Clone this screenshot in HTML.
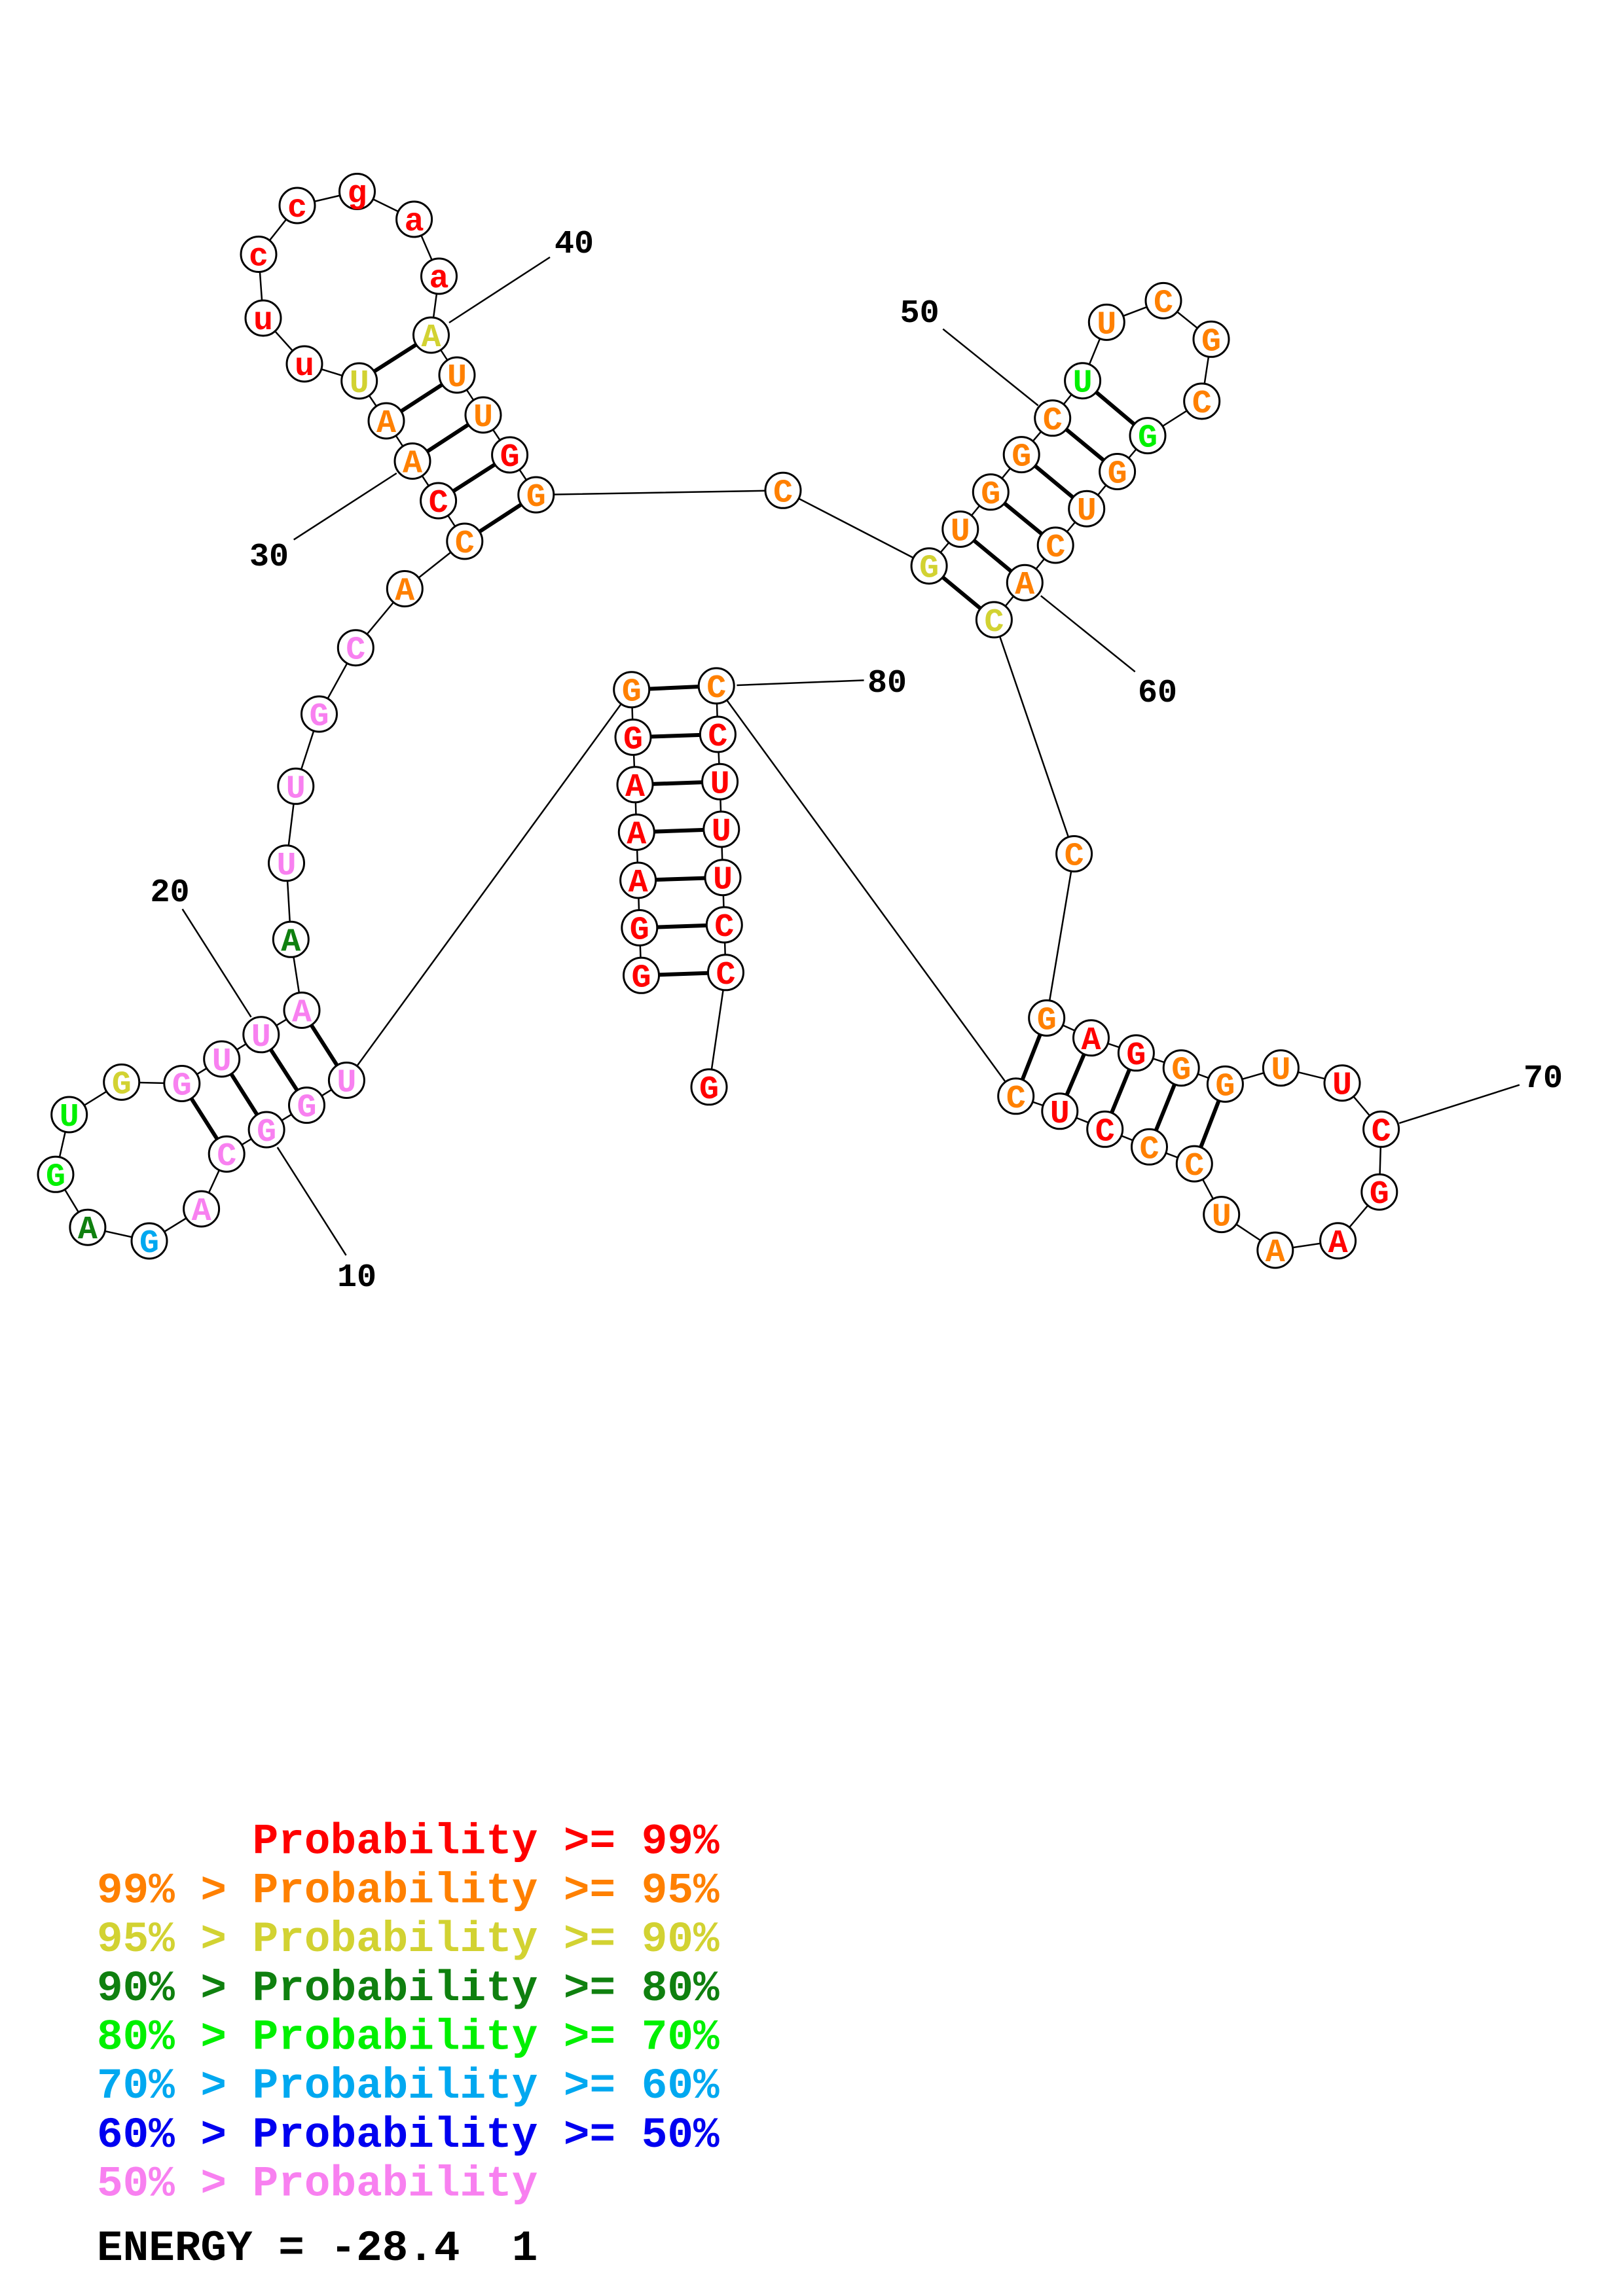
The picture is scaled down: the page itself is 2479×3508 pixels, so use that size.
<!DOCTYPE html>
<html><head><meta charset="utf-8"><style>
html,body{margin:0;padding:0;background:#fff;}
svg{display:block;}
.n{font-family:"Liberation Mono",monospace;font-weight:bold;font-size:50px;text-anchor:middle;}
.lb{font-family:"Liberation Mono",monospace;font-weight:bold;font-size:50px;text-anchor:middle;fill:#000;}
.lg{font-family:"Liberation Mono",monospace;font-weight:bold;font-size:66px;white-space:pre;}
.R{fill:#FF0000}.O{fill:#FF8000}.Y{fill:#D2D232}.DG{fill:#0F800F}.G{fill:#00F000}.LB{fill:#00A8F0}.B{fill:#0000F0}.P{fill:#F880F0}
</style></head><body>
<svg width="2479" height="3508" viewBox="0 0 2479 3508" xmlns="http://www.w3.org/2000/svg">
<rect width="2479" height="3508" fill="#fff"/>
<!-- backbone -->
<polyline fill="none" stroke="#000" stroke-width="2.5" points="979.5,1490.3 976.8,1417.5 974.6,1345 972.3,1271.5 970,1198.8 967,1126.4 964.7,1053.7 529.4,1650.5 468.5,1688.6 407.1,1726 346.2,1763.2 307.6,1847 228,1896 133.9,1875.2 85,1794.3 105.7,1703 185.7,1653.4 277.8,1655.5 338.7,1618 398.8,1580.8 461,1543.5 444.3,1435.3 437.5,1318.8 451.8,1201.3 487.5,1091 543.3,989.7 618.3,899.5 709.8,827 669.6,765 630,704.5 590,643 548.7,582 465,556 402,486 395,388.5 454,314 545.5,292.5 632.6,335 670.5,422 658.5,512 698,573 738,634 778.6,695 818.8,756 1196,749.3 1419.1,864.7 1466.8,808.5 1513.3,751.8 1560.2,694.6 1607.7,638.8 1653.6,581.7 1690.3,492.4 1777,459.4 1850,518.3 1835.7,613 1753,665.6 1706.6,720.5 1659.7,777.2 1612.2,833 1565.3,890.2 1518.4,946.9 1640.6,1304.5 1598.7,1555.4 1666.5,1585.8 1735.4,1608.8 1804.2,1631.7 1871.4,1656.4 1956.4,1631.7 2050,1654.7 2109.6,1725.3 2106.8,1821.2 2043.6,1895.8 1947.8,1910.1 1865.7,1855.6 1824.3,1778.1 1755.5,1752.3 1687.7,1725.3 1618.8,1697.8 1551.7,1674.8 1094.2,1047.9 1096.4,1122 1099.6,1194.3 1101.8,1267 1104,1340.7 1106.3,1413 1108.5,1485.8 1083,1660.8"/>
<!-- base pairs -->
<g stroke="#000" stroke-width="6">
<line x1="979.5" y1="1490.3" x2="1108.5" y2="1485.8"/>
<line x1="976.8" y1="1417.5" x2="1106.3" y2="1413"/>
<line x1="974.6" y1="1345" x2="1104" y2="1340.7"/>
<line x1="972.3" y1="1271.5" x2="1101.8" y2="1267"/>
<line x1="970" y1="1198.8" x2="1099.6" y2="1194.3"/>
<line x1="967" y1="1126.4" x2="1096.4" y2="1122"/>
<line x1="964.7" y1="1053.7" x2="1094.2" y2="1047.9"/>
<line x1="529.4" y1="1650.5" x2="461" y2="1543.5"/>
<line x1="468.5" y1="1688.6" x2="398.8" y2="1580.8"/>
<line x1="407.1" y1="1726" x2="338.7" y2="1618"/>
<line x1="346.2" y1="1763.2" x2="277.8" y2="1655.5"/>
<line x1="709.8" y1="827" x2="818.8" y2="756"/>
<line x1="669.6" y1="765" x2="778.6" y2="695"/>
<line x1="630" y1="704.5" x2="738" y2="634"/>
<line x1="590" y1="643" x2="698" y2="573"/>
<line x1="548.7" y1="582" x2="658.5" y2="512"/>
<line x1="1419.1" y1="864.7" x2="1518.4" y2="946.9"/>
<line x1="1466.8" y1="808.5" x2="1565.3" y2="890.2"/>
<line x1="1513.3" y1="751.8" x2="1612.2" y2="833"/>
<line x1="1560.2" y1="694.6" x2="1659.7" y2="777.2"/>
<line x1="1607.7" y1="638.8" x2="1706.6" y2="720.5"/>
<line x1="1653.6" y1="581.7" x2="1753" y2="665.6"/>
<line x1="1598.7" y1="1555.4" x2="1551.7" y2="1674.8"/>
<line x1="1666.5" y1="1585.8" x2="1618.8" y2="1697.8"/>
<line x1="1735.4" y1="1608.8" x2="1687.7" y2="1725.3"/>
<line x1="1804.2" y1="1631.7" x2="1755.5" y2="1752.3"/>
<line x1="1871.4" y1="1656.4" x2="1824.3" y2="1778.1"/>
</g>
<!-- label ticks -->
<g stroke="#000" stroke-width="2.5">
<line x1="423.7" y1="1752.9" x2="528.6" y2="1917.9"/>
<line x1="278.6" y1="1388.9" x2="383.5" y2="1553.9"/>
<line x1="448.7" y1="824.6" x2="605.8" y2="723"/>
<line x1="686" y1="493" x2="840" y2="393"/>
<line x1="1440.3" y1="502.7" x2="1585.7" y2="619.6"/>
<line x1="1589.8" y1="910.3" x2="1733.7" y2="1026.3"/>
<line x1="2137.2" y1="1716.1" x2="2320.9" y2="1657.6"/>
<line x1="1125.4" y1="1047" x2="1319.6" y2="1039.4"/>
</g>
<!-- circles -->
<g fill="#fff" stroke="#000" stroke-width="3">
<circle cx="979.5" cy="1490.3" r="27"/><circle cx="976.8" cy="1417.5" r="27"/><circle cx="974.6" cy="1345" r="27"/><circle cx="972.3" cy="1271.5" r="27"/><circle cx="970" cy="1198.8" r="27"/><circle cx="967" cy="1126.4" r="27"/><circle cx="964.7" cy="1053.7" r="27"/>
<circle cx="529.4" cy="1650.5" r="27"/><circle cx="468.5" cy="1688.6" r="27"/><circle cx="407.1" cy="1726" r="27"/><circle cx="346.2" cy="1763.2" r="27"/><circle cx="307.6" cy="1847" r="27"/><circle cx="228" cy="1896" r="27"/><circle cx="133.9" cy="1875.2" r="27"/><circle cx="85" cy="1794.3" r="27"/><circle cx="105.7" cy="1703" r="27"/><circle cx="185.7" cy="1653.4" r="27"/><circle cx="277.8" cy="1655.5" r="27"/><circle cx="338.7" cy="1618" r="27"/><circle cx="398.8" cy="1580.8" r="27"/><circle cx="461" cy="1543.5" r="27"/>
<circle cx="444.3" cy="1435.3" r="27"/><circle cx="437.5" cy="1318.8" r="27"/><circle cx="451.8" cy="1201.3" r="27"/><circle cx="487.5" cy="1091" r="27"/><circle cx="543.3" cy="989.7" r="27"/><circle cx="618.3" cy="899.5" r="27"/>
<circle cx="709.8" cy="827" r="27"/><circle cx="669.6" cy="765" r="27"/><circle cx="630" cy="704.5" r="27"/><circle cx="590" cy="643" r="27"/><circle cx="548.7" cy="582" r="27"/><circle cx="465" cy="556" r="27"/><circle cx="402" cy="486" r="27"/><circle cx="395" cy="388.5" r="27"/><circle cx="454" cy="314" r="27"/><circle cx="545.5" cy="292.5" r="27"/><circle cx="632.6" cy="335" r="27"/><circle cx="670.5" cy="422" r="27"/><circle cx="658.5" cy="512" r="27"/><circle cx="698" cy="573" r="27"/><circle cx="738" cy="634" r="27"/><circle cx="778.6" cy="695" r="27"/><circle cx="818.8" cy="756" r="27"/>
<circle cx="1196" cy="749.3" r="27"/>
<circle cx="1419.1" cy="864.7" r="27"/><circle cx="1466.8" cy="808.5" r="27"/><circle cx="1513.3" cy="751.8" r="27"/><circle cx="1560.2" cy="694.6" r="27"/><circle cx="1607.7" cy="638.8" r="27"/><circle cx="1653.6" cy="581.7" r="27"/><circle cx="1690.3" cy="492.4" r="27"/><circle cx="1777" cy="459.4" r="27"/><circle cx="1850" cy="518.3" r="27"/><circle cx="1835.7" cy="613" r="27"/><circle cx="1753" cy="665.6" r="27"/><circle cx="1706.6" cy="720.5" r="27"/><circle cx="1659.7" cy="777.2" r="27"/><circle cx="1612.2" cy="833" r="27"/><circle cx="1565.3" cy="890.2" r="27"/><circle cx="1518.4" cy="946.9" r="27"/>
<circle cx="1640.6" cy="1304.5" r="27"/>
<circle cx="1598.7" cy="1555.4" r="27"/><circle cx="1666.5" cy="1585.8" r="27"/><circle cx="1735.4" cy="1608.8" r="27"/><circle cx="1804.2" cy="1631.7" r="27"/><circle cx="1871.4" cy="1656.4" r="27"/><circle cx="1956.4" cy="1631.7" r="27"/><circle cx="2050" cy="1654.7" r="27"/><circle cx="2109.6" cy="1725.3" r="27"/><circle cx="2106.8" cy="1821.2" r="27"/><circle cx="2043.6" cy="1895.8" r="27"/><circle cx="1947.8" cy="1910.1" r="27"/><circle cx="1865.7" cy="1855.6" r="27"/><circle cx="1824.3" cy="1778.1" r="27"/><circle cx="1755.5" cy="1752.3" r="27"/><circle cx="1687.7" cy="1725.3" r="27"/><circle cx="1618.8" cy="1697.8" r="27"/><circle cx="1551.7" cy="1674.8" r="27"/>
<circle cx="1094.2" cy="1047.9" r="27"/><circle cx="1096.4" cy="1122" r="27"/><circle cx="1099.6" cy="1194.3" r="27"/><circle cx="1101.8" cy="1267" r="27"/><circle cx="1104" cy="1340.7" r="27"/><circle cx="1106.3" cy="1413" r="27"/><circle cx="1108.5" cy="1485.8" r="27"/><circle cx="1083" cy="1660.8" r="27"/>
</g>
<!-- letters -->
<g class="n">
<text class="R" x="979.5" y="1507.3">G</text><text class="R" x="976.8" y="1434.5">G</text><text class="R" x="974.6" y="1362">A</text><text class="R" x="972.3" y="1288.5">A</text><text class="R" x="970" y="1215.8">A</text><text class="R" x="967" y="1143.4">G</text><text class="O" x="964.7" y="1070.7">G</text>
<text class="P" x="529.4" y="1667.5">U</text><text class="P" x="468.5" y="1705.6">G</text><text class="P" x="407.1" y="1743">G</text><text class="P" x="346.2" y="1780.2">C</text><text class="P" x="307.6" y="1864">A</text><text class="LB" x="228" y="1913">G</text><text class="DG" x="133.9" y="1892.2">A</text><text class="G" x="85" y="1811.3">G</text><text class="G" x="105.7" y="1720">U</text><text class="Y" x="185.7" y="1670.4">G</text><text class="P" x="277.8" y="1672.5">G</text><text class="P" x="338.7" y="1635">U</text><text class="P" x="398.8" y="1597.8">U</text><text class="P" x="461" y="1560.5">A</text>
<text class="DG" x="444.3" y="1452.3">A</text><text class="P" x="437.5" y="1335.8">U</text><text class="P" x="451.8" y="1218.3">U</text><text class="P" x="487.5" y="1108">G</text><text class="P" x="543.3" y="1006.7">C</text><text class="O" x="618.3" y="916.5">A</text>
<text class="O" x="709.8" y="844">C</text><text class="R" x="669.6" y="782">C</text><text class="O" x="630" y="721.5">A</text><text class="O" x="590" y="660">A</text><text class="Y" x="548.7" y="599">U</text><text class="R" x="465" y="573">u</text><text class="R" x="402" y="503">u</text><text class="R" x="395" y="405.5">c</text><text class="R" x="454" y="331">c</text><text class="R" x="545.5" y="309.5">g</text><text class="R" x="632.6" y="352">a</text><text class="R" x="670.5" y="439">a</text><text class="Y" x="658.5" y="529">A</text><text class="O" x="698" y="590">U</text><text class="O" x="738" y="651">U</text><text class="R" x="778.6" y="712">G</text><text class="O" x="818.8" y="773">G</text>
<text class="O" x="1196" y="766.3">C</text>
<text class="Y" x="1419.1" y="881.7">G</text><text class="O" x="1466.8" y="825.5">U</text><text class="O" x="1513.3" y="768.8">G</text><text class="O" x="1560.2" y="711.6">G</text><text class="O" x="1607.7" y="655.8">C</text><text class="G" x="1653.6" y="598.7">U</text><text class="O" x="1690.3" y="509.4">U</text><text class="O" x="1777" y="476.4">C</text><text class="O" x="1850" y="535.3">G</text><text class="O" x="1835.7" y="630">C</text><text class="G" x="1753" y="682.6">G</text><text class="O" x="1706.6" y="737.5">G</text><text class="O" x="1659.7" y="794.2">U</text><text class="O" x="1612.2" y="850">C</text><text class="O" x="1565.3" y="907.2">A</text><text class="Y" x="1518.4" y="963.9">C</text>
<text class="O" x="1640.6" y="1321.5">C</text>
<text class="O" x="1598.7" y="1572.4">G</text><text class="R" x="1666.5" y="1602.8">A</text><text class="R" x="1735.4" y="1625.8">G</text><text class="O" x="1804.2" y="1648.7">G</text><text class="O" x="1871.4" y="1673.4">G</text><text class="O" x="1956.4" y="1648.7">U</text><text class="R" x="2050" y="1671.7">U</text><text class="R" x="2109.6" y="1742.3">C</text><text class="R" x="2106.8" y="1838.2">G</text><text class="R" x="2043.6" y="1912.8">A</text><text class="O" x="1947.8" y="1927.1">A</text><text class="O" x="1865.7" y="1872.6">U</text><text class="O" x="1824.3" y="1795.1">C</text><text class="O" x="1755.5" y="1769.3">C</text><text class="R" x="1687.7" y="1742.3">C</text><text class="R" x="1618.8" y="1714.8">U</text><text class="O" x="1551.7" y="1691.8">C</text>
<text class="O" x="1094.2" y="1064.9">C</text><text class="R" x="1096.4" y="1139">C</text><text class="R" x="1099.6" y="1211.3">U</text><text class="R" x="1101.8" y="1284">U</text><text class="R" x="1104" y="1357.7">U</text><text class="R" x="1106.3" y="1430">C</text><text class="R" x="1108.5" y="1502.8">C</text><text class="R" x="1083" y="1677.8">G</text>
</g>
<!-- position labels -->
<g class="lb">
<text x="545" y="1965">10</text>
<text x="259.5" y="1377">20</text>
<text x="411" y="864">30</text>
<text x="877" y="386">40</text>
<text x="1404.6" y="492">50</text>
<text x="1768" y="1072">60</text>
<text x="2357" y="1661">70</text>
<text x="1355" y="1057">80</text>
</g>
<!-- legend -->
<g class="lg">
<text class="R" x="148" y="2831.7" xml:space="preserve">      Probability &gt;= 99%</text>
<text class="O" x="148" y="2906.3" xml:space="preserve">99% &gt; Probability &gt;= 95%</text>
<text class="Y" x="148" y="2980.9" xml:space="preserve">95% &gt; Probability &gt;= 90%</text>
<text class="DG" x="148" y="3055.9" xml:space="preserve">90% &gt; Probability &gt;= 80%</text>
<text class="G" x="148" y="3130.5" xml:space="preserve">80% &gt; Probability &gt;= 70%</text>
<text class="LB" x="148" y="3205" xml:space="preserve">70% &gt; Probability &gt;= 60%</text>
<text class="B" x="148" y="3280" xml:space="preserve">60% &gt; Probability &gt;= 50%</text>
<text class="P" x="148" y="3354.6" xml:space="preserve">50% &gt; Probability</text>
<text fill="#000" x="148" y="3452.8" xml:space="preserve">ENERGY = -28.4  1</text>
</g>
</svg>
</body></html>
